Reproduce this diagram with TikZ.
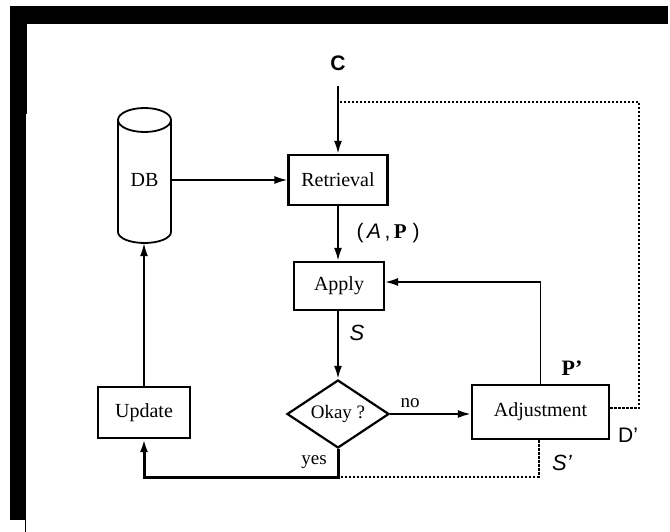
\documentclass[tikz,border=0pt]{standalone}
\usepackage{fontspec}
\setmainfont{Liberation Serif}
\setsansfont{Liberation Sans}
\usetikzlibrary{arrows.meta,shapes.geometric}
\begin{document}
\begin{tikzpicture}[x=1pt,y=-1pt,
  box/.style={draw,line width=2.2pt,rectangle,inner sep=0pt,font=\fontsize{20}{22}\selectfont},
  arr/.style={line width=2.2pt,-{Latex[length=13pt,width=8pt]}},
  thinarr/.style={line width=1.6pt,-{Latex[length=13pt,width=8pt]}},
  thickarr/.style={line width=3pt,-{Latex[length=13pt,width=8pt]}},
  dots/.style={line width=2pt,dash pattern=on 2.4pt off 1.6pt},
  lbl/.style={inner sep=0pt,font=\fontsize{21}{23}\selectfont},
  slbl/.style={inner sep=0pt,font=\fontsize{19}{21}\selectfont}]
\useasboundingbox (0,0) rectangle (670,532);
% frame
\fill[black] (10,6) rectangle (668,24);
\fill[black] (10,6) rectangle (27,114);
\fill[black] (10,114) rectangle (26,520);
\draw[line width=1pt] (25,520) -- (25,532);
% nodes
\node[inner sep=0pt,font=\fontsize{21}{23}\selectfont\sffamily\bfseries] (C) at (338,63) {C};
\node[box,minimum width=99pt,minimum height=50pt] (ret) at (338,180) {Retrieval};
\node[box,minimum width=90pt,minimum height=48pt] (app) at (339,286) {Apply};
\node[draw,diamond,line width=2.2pt,inner sep=0pt,aspect=1.5,minimum width=102pt,minimum height=68pt,font=\fontsize{19}{21}\selectfont] (okay) at (338,414) {Okay ?};
\node[box,minimum width=137pt,minimum height=54pt] (adj) at (540.5,412) {Adjustment};
\node[box,minimum width=92pt,minimum height=51pt] (upd) at (144,412.5) {Update};
\node[inner sep=0pt,minimum width=53pt,minimum height=126pt,font=\fontsize{20}{22}\selectfont] (db) at (144.5,180) {DB};
% cylinder outline of DB
\draw[line width=1.8pt] (118,120) -- (118,232) arc (180:0:26.5 and 11) -- (171,120);
\draw[line width=1.8pt] (144.5,120) ellipse (26.5 and 12);
% helper coordinates
\coordinate (yj) at (338,477);
\coordinate (topc) at (338,102);
\coordinate (dR) at (639,102);
% connectors
\draw[arr,shorten <=15pt] (C.south) -- (C.south |- ret.north);
\draw[thinarr] (db.east) -- (ret.west);
\draw[arr] (ret.south -| okay.north) -- (app.north -| okay.north);
\draw[arr] (app.south -| okay.north) -- (okay.north);
\draw[arr] (okay.east) -- (okay.east -| adj.west);
\draw[thinarr] (adj.north) |- ([yshift=4pt]app.east);
\draw[thickarr] (okay.south) -- (yj) -| (upd.south);
\draw[thinarr] (upd.north) -- (upd.north |- db.south);
\draw[dots] ([yshift=4pt]adj.east) -| (dR) -- (topc);
\draw[dots] ([xshift=-2pt]adj.south) |- (yj);
% labels
\node[lbl] (ap) at (388,233) {{\sffamily(\,\itshape A\,}{\sffamily,}\,{\bfseries P}\;{\sffamily)}};
\node[lbl,font=\fontsize{22}{24}\selectfont\sffamily\itshape] (sl) at (357,333) {S};
\node[lbl,font=\fontsize{22}{24}\selectfont\bfseries] (pp) at (572,368) {P'};
\node[lbl,font=\fontsize{21}{23}\selectfont\sffamily] (dp) at (628,435) {D'};
\node[lbl,font=\fontsize{22}{24}\selectfont\sffamily\itshape] (sp) at (562,463) {S'};
\node[slbl] (yes) at (314,462) {yes};
\node[slbl] (no) at (410,403) {no};
\end{tikzpicture}
\end{document}
